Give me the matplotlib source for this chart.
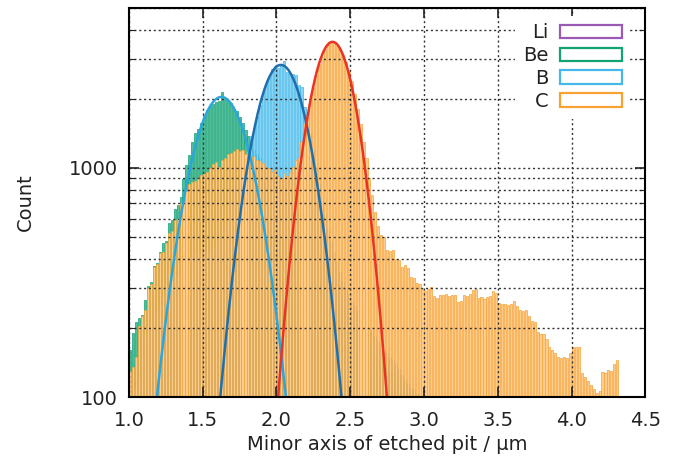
import numpy as np
import matplotlib
matplotlib.use("Agg")
import matplotlib.pyplot as plt
from matplotlib.patches import Patch

plt.rcParams['font.family'] = ['DejaVu Sans']

# histogram bins: 0.02 um wide, starting at 1.00
bin_start = 1.00
bin_width = 0.02

# C (orange), bins 1.01 ... 4.39
count_C = [
    130, 135, 150, 205, 225, 240, 300, 310, 370, 380,
    425, 430, 470, 520, 530, 590, 600, 700, 720, 790,
    850, 870, 880, 900, 930, 940, 960, 1000, 1040, 1060,
    1010, 1080, 1100, 1150, 1160, 1180, 1210, 1190, 1200, 1150,
    1170, 1120, 1130, 1080, 1070, 1050, 1010, 1000, 960, 980,
    920, 900, 950, 920, 960, 1010, 1080, 1100, 1300, 1550,
    1650, 1950, 2250, 2550, 2850, 3050, 3300, 3450, 3550, 3500,
    3420, 3300, 3100, 2900, 2650, 2400, 2100, 1800, 1550, 1300,
    1100, 900, 760, 640, 560, 510, 500, 440, 435, 440,
    400, 395, 370, 375, 365, 335, 330, 315, 310, 295,
    290, 295, 302, 275, 270, 280, 278, 282, 276, 280,
    278, 260, 262, 280, 275, 282, 292, 295, 270, 272,
    268, 272, 275, 290, 285, 258, 255, 254, 252, 254,
    262, 250, 240, 238, 240, 225, 215, 212, 192, 188,
    188, 180, 165, 160, 155, 150, 148, 150, 148, 155,
    165, 166, 165, 127, 122, 118, 113, 108, 104, 106,
    128, 127, 131, 130, 140, 145, 101, 100, 100, 100,
]

# Be (green), bins 1.01 ... 2.99
count_Be = [
    160, 190, 212, 222, 228, 265, 305, 318, 372, 385,
    430, 470, 480, 575, 590, 660, 690, 750, 890, 1030,
    1140, 1300, 1420, 1480, 1570, 1700, 1790, 1860, 1900, 1940,
    1960, 2150, 1990, 1960, 1920, 1800, 1780, 1670, 1570, 1470,
    1380, 1330, 1200, 1150, 1100, 950, 880, 820, 700, 580,
    560, 500, 480, 470, 440, 430, 425, 410, 390, 370,
    350, 340, 330, 320, 310, 305, 300, 295, 290, 280,
    270, 255, 245, 235, 220, 210, 200, 195, 185, 180,
    175, 168, 160, 150, 148, 145, 140, 135, 128, 125,
    120, 118, 112, 115, 108, 105, 103, 101, 100, 100,
]

# B (light blue), bins 1.01 ... 2.99
count_B = [
    100, 105, 110, 120, 150, 185, 200, 215, 225, 240,
    255, 270, 290, 300, 310, 330, 340, 360, 380, 390,
    405, 415, 420, 425, 428, 430, 435, 440, 445, 470,
    495, 520, 560, 620, 700, 780, 880, 990, 1100, 1150,
    1250, 1380, 1500, 1680, 1880, 2150, 2320, 2500, 2700, 2780,
    2720, 2850, 2920, 2620, 2600, 2580, 2550, 2300, 2250, 1850,
    1650, 1420, 1200, 1000, 850, 720, 620, 540, 480, 430,
    390, 350, 320, 300, 280, 260, 250, 240, 230, 220,
    210, 200, 195, 185, 175, 168, 160, 155, 150, 145,
    140, 132, 125, 120, 115, 110, 108, 104, 102, 100,
]

# Li (purple), bins 1.01 ... 2.99
count_Li = [
    100, 105, 116, 125, 135, 150, 170, 195, 225, 265,
    262, 258, 258, 290, 318, 285, 293, 300, 290, 270,
    265, 300, 295, 351, 300, 270, 280, 295, 300, 285,
    270, 290, 300, 285, 260, 275, 290, 265, 280, 300,
    290, 275, 285, 290, 280, 290, 270, 250, 245, 285,
    265, 240, 224, 228, 240, 247, 245, 200, 215, 221,
    224, 224, 192, 188, 183, 170, 145, 155, 160, 165,
    168, 165, 170, 168, 153, 150, 155, 158, 150, 141,
    138, 135, 125, 130, 128, 120, 125, 118, 112, 110,
    108, 112, 105, 104, 102, 100, 99, 99, 99, 99,
]

# gaussian fits: (amplitude, mean, sigma)
fit_Be = (2040, 1.627, 0.178)
fit_B = (2815, 2.030, 0.159)
fit_C = (3550, 2.380, 0.138)

series = [
    ("Li", count_Li, "#9b59b6", "#c9a0dc"),
    ("Be", count_Be, "#12a374", "#52bd96"),
    ("B", count_B, "#45b8ea", "#88d4f4"),
    ("C", count_C, "#f8a234", "#fecd8e"),
]

fig = plt.figure(figsize=(6.75, 4.69), dpi=100)
ax = fig.add_axes([0.191, 0.1535, 0.765, 0.83])
ax.set_yscale("log")

for name, counts, edge, face in series:
    centers = bin_start + bin_width * (np.arange(len(counts)) + 0.5)
    ax.bar(centers, counts, width=bin_width * 0.72, color=face,
           edgecolor=edge, linewidth=0.5, zorder=1)

xs = np.linspace(1.0, 4.5, 800)
for (a, m, s), col in [(fit_Be, "#2ba6dd"), (fit_B, "#1f6fad"), (fit_C, "#ea3323")]:
    ax.plot(xs, a * np.exp(-(xs - m) ** 2 / (2 * s ** 2)), color=col, lw=1.8, zorder=3)

ax.set_xlim(1.0, 4.5)
ax.set_ylim(100, 5000)
ax.set_xticks(np.arange(1.0, 4.51, 0.5))
ax.set_xticklabels(["%.1f" % v for v in np.arange(1.0, 4.51, 0.5)])
ax.set_yticks([100, 1000])
ax.set_yticklabels(["100", "1000"])
ax.set_yticks([200, 300, 400, 500, 600, 700, 800, 900, 2000, 3000, 4000, 5000],
              minor=True)
ax.yaxis.set_minor_formatter(matplotlib.ticker.NullFormatter())

ax.set_axisbelow(False)
ax.grid(True, which="both", axis="y", color="#333333", ls=(0, (1.5, 2)), lw=1.0)
ax.grid(True, which="major", axis="x", color="#333333", ls=(0, (1.5, 2)), lw=1.0)

ax.tick_params(which="both", direction="in", top=True, right=True,
               labelsize=14, colors="#222222")
ax.tick_params(axis="x", pad=10)
ax.tick_params(axis="y", pad=8)
ax.tick_params(which="major", length=7, width=1.2)
ax.tick_params(which="minor", length=4, width=0.8)
for sp in ax.spines.values():
    sp.set_linewidth(1.5)
    sp.set_zorder(5)

ax.set_xlabel("Minor axis of etched pit / µm", fontsize=14, color="#222222", labelpad=4)
ax.set_ylabel("Count", fontsize=14, color="#222222", labelpad=24)

handles = [Patch(facecolor="white", edgecolor=e, linewidth=1.6) for _, _, e, _ in series]
labels = [n for n, _, _, _ in series]
leg = ax.legend(handles, labels, loc="upper right", markerfirst=False,
                frameon=True, fontsize=14, handlelength=3.2, handleheight=0.7,
                labelspacing=0.2, borderaxespad=0.4, handletextpad=0.6,
                bbox_to_anchor=(0.985, 1.0))
leg.get_frame().set_facecolor("white")
leg.get_frame().set_edgecolor("none")
leg.get_frame().set_alpha(1.0)
for t in leg.get_texts():
    t.set_ha("right")
    t.set_color("#222222")

fig.savefig("out.png", dpi=100)
